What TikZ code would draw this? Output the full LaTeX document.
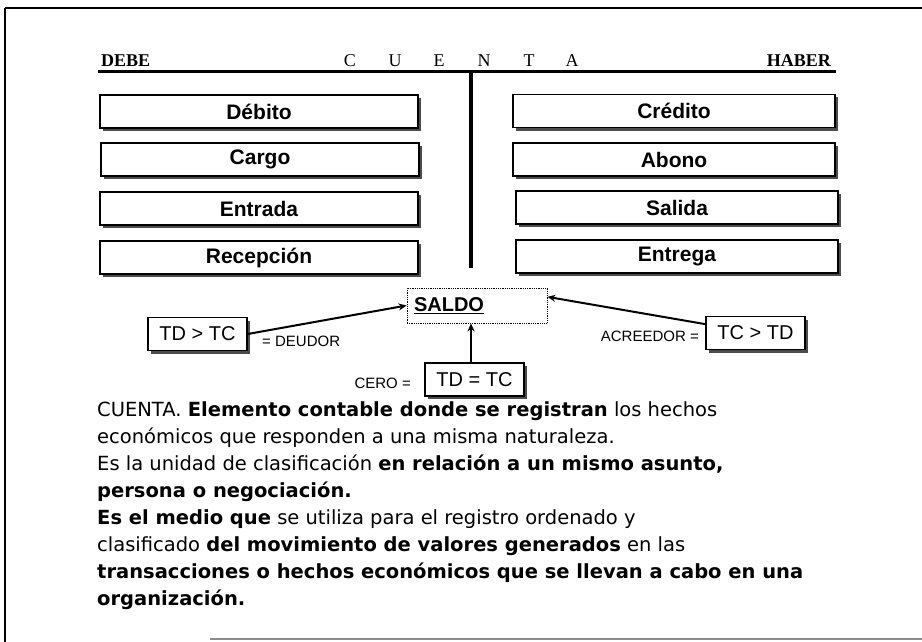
\documentclass[tikz,border=0pt]{standalone}
\usepackage{fontspec}
\setmainfont{Liberation Serif}
\newfontfamily\arialf{Liberation Sans}
\newfontfamily\parf{DejaVu Sans}
\usetikzlibrary{shadows,arrows.meta}
\begin{document}
\begin{tikzpicture}[x=1pt,y=-1pt,
  shad/.style={drop shadow={shadow xshift=3pt,shadow yshift=-3pt,fill=black!70,opacity=1}},
  acct/.style={draw,line width=1.6pt,fill=white,minimum width=318pt,minimum height=33pt,inner sep=0pt,
    font=\arialf\bfseries\fontsize{21}{22}\selectfont,shad},
  smallbox/.style={draw,line width=1.4pt,fill=white,minimum width=99pt,minimum height=33pt,inner sep=0pt,
    font=\arialf\fontsize{20}{22}\selectfont,shad},
  lbl/.style={font=\arialf\fontsize{15}{16}\selectfont,inner sep=0pt},
  hdr/.style={font=\fontsize{18}{20}\selectfont,inner sep=0pt,anchor=base},
  conn/.style={line width=2pt,-{Stealth[length=8pt,width=7pt]}}
]
\useasboundingbox (0,0) rectangle (922,642);
% page frame
\draw[line width=2pt] (5,8) -- (922,8);
\draw[line width=1.2pt] (5,8) -- (5,642);
\draw[line width=2pt,black!45] (210,639) -- (922,639);
% T account
\coordinate (tl) at (98,72);
\coordinate (tr) at (836,72);
\coordinate (tm) at (471,72);
\coordinate (tb) at (471,268);
\draw[line width=3pt] (tl) -- (tr);
\draw[line width=4pt] (tm) -- (tb);
\node[hdr,anchor=base west,font=\bfseries\fontsize{18}{20}\selectfont] (debe) at (101,67) {DEBE};
\node[hdr,anchor=base east,font=\bfseries\fontsize{18}{20}\selectfont] (haber) at (831,67) {HABER};
\node[hdr] (c1) at (350,67) {C};
\node[hdr] (c2) at (395,67) {U};
\node[hdr] (c3) at (439,67) {E};
\node[hdr] (c4) at (484,67) {N};
\node[hdr] (c5) at (529,67) {T};
\node[hdr] (c6) at (572,67) {A};
% left boxes
\node[acct] (debito) at (259,111.5) {Débito};
\node[acct] (cargo) at (260,159.5) {Cargo};
\node[acct] (entrada) at (259,208.5) {Entrada};
\node[acct] (recep) at (259,257.5) {Recepción};
% right boxes
\node[acct,minimum width=322pt] (credito) at (674,111) {Crédito};
\node[acct,minimum width=322pt] (abono) at (674,159.5) {Abono};
\node[acct,minimum width=322pt] (salida) at (677,207.5) {Salida};
\node[acct,minimum width=322pt] (entrega) at (677,256.5) {Entrega};
% saldo
\node[draw,densely dotted,line width=0.8pt,minimum width=140pt,minimum height=35pt,inner sep=0pt,
  text width=126pt,align=left,font=\arialf\bfseries\fontsize{20}{21}\selectfont] (saldo) at (477,305.5) {\underline{SALDO}};
\node[smallbox] (tdgt) at (197.5,334) {TD > TC};
\node[smallbox] (tcgt) at (755.5,333) {TC > TD};
\node[smallbox] (tdeq) at (474.5,379.5) {TD = TC};
\node[lbl,anchor=west] (deudor) at (262,341) {= DEUDOR};
\node[lbl,anchor=east] (acreedor) at (699,336) {ACREEDOR =};
\node[lbl,anchor=east] (cero) at (411,383) {CERO =};
\draw[conn] (tdgt.east) -- (saldo.west);
\draw[conn] (tcgt.170) -- (saldo.7);
\draw[conn] (tdeq.north -| tb) -- (saldo.south -| tb);
% paragraph
\node[anchor=north west,inner sep=0pt,align=left,font=\parf\fontsize{19.5}{27}\selectfont] (para) at (97,401) {%
CUENTA. \textbf{Elemento contable donde se registran} los hechos\\
económicos que responden a una misma naturaleza.\\
Es la unidad de clasificación \textbf{en relación a un mismo asunto,}\\
\textbf{persona o negociación.}\\
\textbf{Es el medio que} se utiliza para el registro ordenado y\\
clasificado \textbf{del movimiento de valores generados} en las\\
\textbf{transacciones o hechos económicos que se llevan a cabo en una}\\
\textbf{organización.}};
\end{tikzpicture}
\end{document}
